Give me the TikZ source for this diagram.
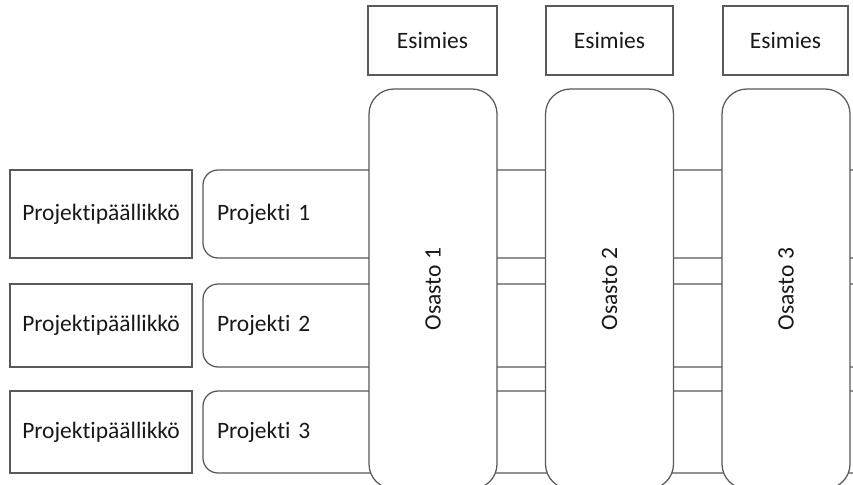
\documentclass[tikz,border=0pt]{standalone}
\usepackage{fontspec}
\setmainfont[Ligatures={NoCommon}]{Carlito}
\begin{document}
\begin{tikzpicture}[x=1pt,y=-1pt,
  every node/.style={font=\fontsize{23.5}{28}\selectfont, text=black!90, inner sep=0pt, line width=1.25pt, draw=black!65, fill=white},
  pmbox/.style={minimum width=182, minimum height=88},
  projbox/.style={rounded corners=15pt, minimum width=700, minimum height=88, text width=672, align=left},
  osbox/.style={rounded corners=25pt, rotate=90, minimum width=400, minimum height=128},
  esbox/.style={minimum width=128, minimum height=69}]
\useasboundingbox (0,0) rectangle (853,484);
\clip (0,0) rectangle (853,484);
\fill[white] (0,0) rectangle (853,484);
% project managers
\node[pmbox] (pm1) at (101,214) {Projektipäällikkö};
\node[pmbox, minimum height=83] (pm2) at (101,325.5) {Projektipäällikkö};
\node[pmbox, minimum height=82] (pm3) at (101,432) {Projektipäällikkö};
% projects
\node[projbox] (p1) at (553,214) {Projekti 1};
\node[projbox, minimum height=83] (p2) at (553,325.5) {Projekti 2};
\node[projbox, minimum height=82] (p3) at (553,432) {Projekti 3};
% departments
\node[osbox] (o1) at (433,289) {Osasto 1};
\node[osbox] (o2) at (609.5,289) {Osasto 2};
\node[osbox] (o3) at (786,289) {Osasto 3};
% heads
\node[esbox, minimum width=129] (e1) at (432.5,40.5) {Esimies};
\node[esbox, minimum width=127] (e2) at (609.5,40.5) {Esimies};
\node[esbox, minimum width=125] (e3) at (785.5,40.5) {Esimies};
\end{tikzpicture}
\end{document}
